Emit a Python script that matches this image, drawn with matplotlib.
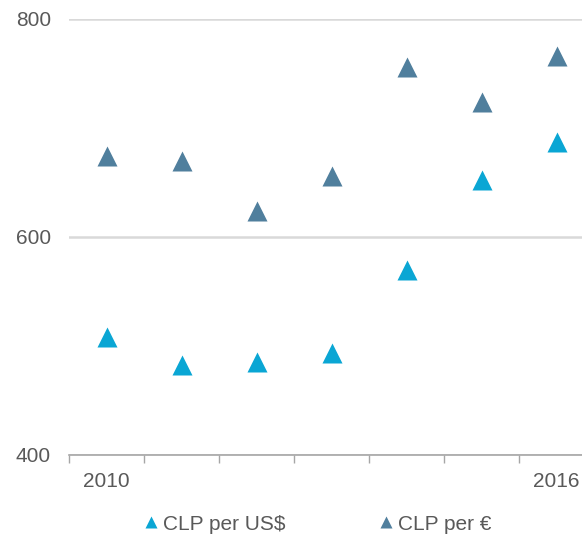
import matplotlib.pyplot as plt
from matplotlib.ticker import FixedLocator, NullFormatter

plt.rcParams['font.family'] = ['Liberation Sans', 'DejaVu Sans']

years = ['2010', '2011', '2012', '2013', '2014', '2015', '2016']
clp_usd = [508, 483, 485, 494, 570, 652, 687]
clp_eur = [674, 670, 624, 656, 756, 724, 766]

fig = plt.figure(figsize=(5.82, 5.36), dpi=100)
ax = fig.add_axes([69/582, 1 - 455/536, 1 - 69/582, (455 - 19)/536])

x = list(range(len(years)))
ax.plot(x, clp_usd, '^', color='#0aa6d4', ms=15, mec='none', label='CLP per US$')
ax.plot(x, clp_eur, '^', color='#507f9d', ms=15, mec='none', label='CLP per \u20ac')

ax.set_ylim(400, 800)
ax.set_yticks([400, 600, 800])
ax.set_xlim(-0.5, 6.34)
ax.yaxis.grid(True, color='#d9d9d9', lw=1.8)
ax.set_axisbelow(True)

# only first and last year labelled, ticks sit between categories
ax.set_xticks([0, 6])
ax.set_xticklabels(['2010', '2016'])
ax.xaxis.set_minor_locator(FixedLocator([i - 0.5 for i in range(8)]))
ax.xaxis.set_minor_formatter(NullFormatter())
ax.tick_params(axis='x', which='major', length=0, pad=12, labelsize=15, labelcolor='#595959')
ax.tick_params(axis='x', which='minor', length=6, width=1, color='#a6a6a6')
ax.tick_params(axis='y', length=0, pad=13, labelsize=15, labelcolor='#595959')

for s in ['top', 'right', 'left']:
    ax.spines[s].set_visible(False)
ax.spines['bottom'].set_color('#a6a6a6')
ax.spines['bottom'].set_linewidth(1.2)

leg = fig.legend(loc='center', bbox_to_anchor=(318/582, 1 - 524/536), ncol=2, frameon=False,
                 fontsize=15, markerscale=0.58, handlelength=0.6, handletextpad=0.3,
                 columnspacing=4.5, labelcolor='#595959', borderpad=0)

fig.savefig('out.png', dpi=100)
